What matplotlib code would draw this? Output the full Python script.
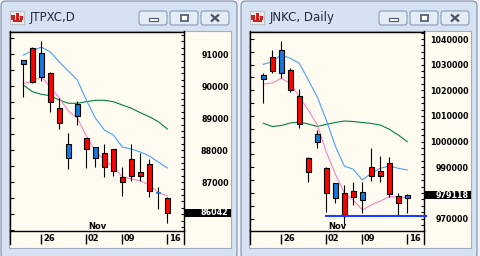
import matplotlib
matplotlib.use('Agg')
import matplotlib.pyplot as plt
from matplotlib.patches import FancyBboxPatch, Rectangle
from matplotlib.ticker import MultipleLocator
from matplotlib.transforms import blended_transform_factory
import numpy as np

# 17 sessions, Oct 22 .. Nov 16
days = np.arange(1, 18)
date_ticks = [3, 8, 12, 17]
date_labels = ['26', '02', '09', '16']
month_label = 'Nov'
month_idx = 8

# JTPXC, D
jt_open = [90688, 91188, 90300, 90416, 89313, 87750, 89081, 88375, 87750,
           87906, 88031, 87156, 87719, 87313, 87563, 86675, 86500]
jt_high = [90822, 91219, 91416, 90447, 89625, 88531, 89541, 88375, 88094,
           88197, 88031, 87469, 88197, 87906, 87719, 86844, 86531]
jt_low = [89675, 90094, 90175, 89206, 88656, 87406, 88791, 87438, 87478,
          87175, 87206, 86581, 87050, 87050, 86531, 86166, 85738]
jt_close = [90822, 90144, 91031, 89500, 88844, 88188, 89447, 88031, 88094,
            87469, 87363, 87019, 87206, 87206, 86738, 86675, 86042]
jt_ma_short = [90094, 90144, 90300, 89978, 89634, 89228, 89009, 88447, 87978,
               87697, 87488, 87175, 87103, 87050, 86916, 86675, 86581]
jt_ma_mid = [90978, 91103, 91228, 91072, 90759, 90478, 90197, 89572, 89009,
             88634, 88478, 88103, 88041, 87947, 87822, 87634, 87447]
jt_ma_long = [90041, 89831, 89750, 89706, 89572, 89469, 89469, 89519, 89563,
              89563, 89519, 89416, 89313, 89175, 89050, 88894, 88666]
jt_ticks = [87000, 88000, 89000, 90000, 91000]

# JNKC, Daily
jn_open = [1024295, 1032868, 1026633, 1027802, 1017670, 993626, 999978, 989729, 977921,
           979869, 980648, 977258, 990002, 988676, 991560, 978817, 977921]
jn_high = [1026633, 1035713, 1039221, 1028582, 1020398, 994016, 1004537, 990119, 983767,
           983103, 984390, 984390, 997640, 994406, 994133, 979869, 979596]
jn_low = [1015176, 1026633, 1024685, 1019463, 1005433, 984390, 997640, 972697, 976208,
          967906, 975311, 972307, 984780, 984390, 978310, 971140, 972073]
jn_close = [1025854, 1027647, 1035596, 1020125, 1006758, 988287, 1002862, 979869, 983767,
            971140, 978310, 980258, 986611, 986611, 979596, 976208, 979118]
jn_ma_short = [1022463, 1022853, 1024685, 1022736, 1017397, 1012331, 1006486, 995964, 987390,
               979986, 977258, 973361, 975311, 976870, 978544, 978544, 978233]
jn_ma_mid = [1030141, 1031154, 1033765, 1032479, 1030530, 1024023, 1017397, 1008434, 998302,
             990508, 989222, 985052, 987663, 989612, 990508, 989612, 988950]
jn_ma_long = [1007148, 1005901, 1006291, 1007265, 1007655, 1006876, 1005901, 1006759, 1007460,
              1008045, 1007850, 1007460, 1007070, 1006486, 1004810, 1002589, 999977]
jn_ticks = [970000, 990000, 1000000, 1010000, 1020000, 1030000, 1040000]
jn_support = 971140
jn_support_from = 8

W, H = 480, 256
CREAM = '#fffbf0'
UP = '#1478dc'
DOWN = '#ff0000'

fig = plt.figure(figsize=(4.8, 2.56), dpi=100)
fig.patch.set_facecolor('#eef2f8')

bg = fig.add_axes([0, 0, 1, 1])
bg.set_xlim(0, W)
bg.set_ylim(H, 0)
bg.axis('off')


def window_chrome(x0, title):
    # window frame
    bg.add_patch(FancyBboxPatch((x0 + 1, 1), 236, 258, boxstyle='round,pad=0,rounding_size=5',
                                fc='#d5e2f1', ec='#7f90a8', lw=0.8))
    bg.add_patch(Rectangle((x0 + 8.5, 30.5), 222.5, 217, fc=CREAM, ec='#9fb0c6', lw=0.8))
    # icon
    bg.add_patch(Rectangle((x0 + 10, 11), 14, 13, fc='#e9e9e9', ec='#b0b0b0', lw=0.5))
    for (ix, iy, iw, ih) in [(11, 15, 4, 5), (16, 13, 3, 8), (20, 16, 3, 4), (13, 20, 9, 2)]:
        bg.add_patch(Rectangle((x0 + ix, iy), iw, ih, fc='#d21e1e', ec='none'))
    bg.text(x0 + 30, 17.5, title, fontsize=8.5, color='#1e2b3c', va='center', ha='left')
    # buttons
    for bx in (139, 170, 201):
        bg.add_patch(FancyBboxPatch((x0 + bx, 11), 28, 14, boxstyle='round,pad=0,rounding_size=2.5',
                                    fc='#e4ecf6', ec='#8a9bb2', lw=0.8))
    bg.add_patch(Rectangle((x0 + 149, 18), 9, 3, fc='white', ec='#4a5566', lw=0.8))
    bg.add_patch(Rectangle((x0 + 181, 14.5), 7, 6.5, fc='white', ec='#4a5566', lw=1.2))
    bg.plot([x0 + 211, x0 + 219], [14.5, 21.5], color='#4a5566', lw=1.6, solid_capstyle='butt')
    bg.plot([x0 + 211, x0 + 219], [21.5, 14.5], color='#4a5566', lw=1.6, solid_capstyle='butt')


window_chrome(0, 'JTPXC,D')
window_chrome(240, 'JNKC, Daily')


def chart(x0, o, h, l, c, ma_s, ma_m, ma_l, ticks, minor_r, minor_l, ylim, last_fmt,
          support=None, support_from=None):
    left, right, top, bottom = x0 + 10, x0 + 184, 31.5, 230.7
    ax = fig.add_axes([left / W, 1 - bottom / H, (right - left) / W, (bottom - top) / H])
    ax.set_facecolor(CREAM)
    xlim = (1 - (23.3 - 10) / 9, 17 + (184 - 167.3) / 9)
    ax.set_xlim(*xlim)
    ax.set_ylim(*ylim)
    for sp in ax.spines.values():
        sp.set_linewidth(1.0)
        sp.set_color('black')

    # moving averages
    ax.plot(days, ma_l, color='#008040', lw=0.8, zorder=2)
    ax.plot(days, ma_m, color='#46a0ff', lw=0.8, zorder=2)
    ax.plot(days, ma_s, color='#ff80c0', lw=0.8, zorder=2)

    # candles
    for d, oo, hh, ll, cc in zip(days, o, h, l, c):
        col = UP if cc >= oo else DOWN
        ax.vlines(d, ll, hh, color='black', lw=0.8, zorder=3)
        if abs(cc - oo) < (ylim[1] - ylim[0]) * 0.004:
            ax.hlines(cc, d - 0.3, d + 0.3, color=col, lw=1.2, zorder=4)
        else:
            ax.bar(d, abs(cc - oo), bottom=min(oo, cc), width=0.6, color=col,
                   edgecolor='black', lw=0.8, zorder=4)

    if support is not None:
        xmin = (support_from - xlim[0]) / (xlim[1] - xlim[0])
        ax.axhline(support, xmin=xmin, xmax=1.013, color='#1e3cff', lw=1.5, zorder=5, clip_on=False)

    ax.text(month_idx + 0.2, ylim[0], month_label, fontsize=6, fontweight='bold',
            ha='left', va='bottom', zorder=6)

    ax.set_xticks([])
    ax.yaxis.set_major_locator(MultipleLocator(minor_l))
    ax.tick_params(axis='y', which='major', direction='in', length=3, width=0.8,
                   left=True, right=False, labelleft=False)

    ax2 = ax.twinx()
    ax2.set_ylim(*ylim)
    ax2.set_yticks(ticks)
    ax2.set_yticklabels([str(t) for t in ticks])
    ax2.yaxis.set_minor_locator(MultipleLocator(minor_r))
    ax2.tick_params(axis='y', which='both', direction='in', length=2.5, width=0.8,
                    labelsize=5.8, pad=32.2)
    for lab in ax2.get_yticklabels():
        lab.set_fontweight('bold')
        lab.set_ha('right')
    for sp in ax2.spines.values():
        sp.set_visible(False)

    # last price box
    px_per_unit = (bottom - top) / (ylim[1] - ylim[0])
    half = 4.2 / px_per_unit
    trans = blended_transform_factory(ax.transAxes, ax.transData)
    ax.add_patch(Rectangle((1.005, c[-1] - half), 46 / 174, 2 * half, transform=trans,
                           fc='black', ec='none', clip_on=False, zorder=6))
    ax.text(1 + 44.7 / 174, c[-1], last_fmt(c[-1]), transform=trans, color='white',
            fontsize=5.8, fontweight='bold', ha='right', va='center', zorder=7)

    # date strip
    dax = fig.add_axes([left / W, 1 - 243.5 / H, (right - left) / W, (243.5 - bottom) / H])
    dax.set_xlim(*xlim)
    dax.set_ylim(0, 1)
    dax.patch.set_alpha(0)
    dax.spines['top'].set_visible(False)
    dax.spines['bottom'].set_visible(False)
    dax.spines['left'].set_linewidth(1.0)
    dax.spines['right'].set_linewidth(1.0)
    dax.set_yticks([])
    dax.set_xticks(date_ticks)
    dax.set_xticklabels([])
    dax.tick_params(axis='x', direction='in', length=7.5, width=1.0, bottom=True)
    for t, lab in zip(date_ticks, date_labels):
        dax.text(t + 0.2, 0.42, lab, fontsize=6, fontweight='bold', ha='left', va='center')
    return ax


chart(0, jt_open, jt_high, jt_low, jt_close, jt_ma_short, jt_ma_mid, jt_ma_long,
      jt_ticks, 200, 500, (85487, 91712), lambda v: str(int(v)))
chart(240, jn_open, jn_high, jn_low, jn_close, jn_ma_short, jn_ma_mid, jn_ma_long,
      jn_ticks, 2500, 5000, (965294, 1042923), lambda v: str(int(v)),
      support=jn_support, support_from=jn_support_from)

fig.savefig('out.png', dpi=100, facecolor=fig.get_facecolor())
